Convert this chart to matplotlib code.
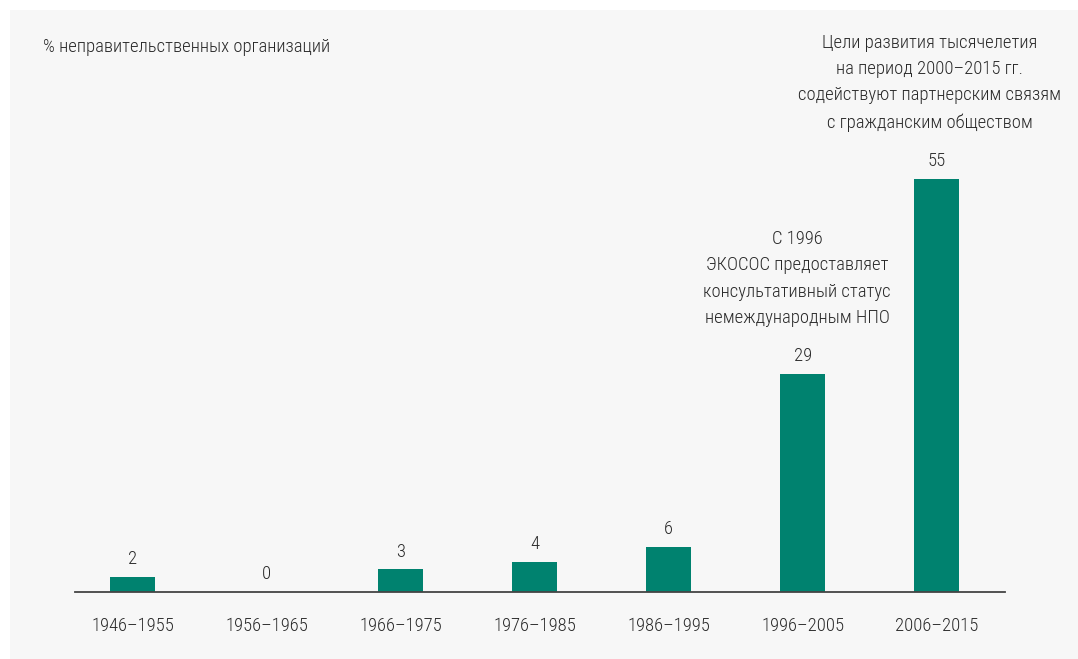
import matplotlib
matplotlib.use("Agg")
import matplotlib.pyplot as plt
from matplotlib.patches import Rectangle

plt.rcParams['font.family'] = ['Roboto Condensed', 'PT Sans Narrow', 'Archivo Narrow', 'DejaVu Sans']
plt.rcParams['font.weight'] = 'light'

categories = ["1946–1955", "1956–1965", "1966–1975", "1976–1985",
              "1986–1995", "1996–2005", "2006–2015"]
values = [2, 0, 3, 4, 6, 29, 55]
y_title = "% неправительственных организаций"
note_1996 = "С 1996\nЭКОСОС предоставляет\nконсультативный статус\nнемеждународным НПО"
note_mdg = ("Цели развития тысячелетия\nна период 2000–2015 гг.\n"
            "содействуют партнерским связям\nс гражданским обществом")

bar_color = "#00826f"
text_color = "#2a2a2a"
bg = "#f7f7f7"
FS = 13.4
LS = 1.6

W, H = 1078, 659
fig = plt.figure(figsize=(W / 100, H / 100), dpi=100)
fig.patch.set_facecolor("white")
fig.patches.append(Rectangle((10 / W, 0), 1 - 10 / W, 1 - 10 / H,
                             transform=fig.transFigure, facecolor=bg,
                             edgecolor="none", zorder=-10))

ax = fig.add_axes([75 / W, (H - 592) / H, (1005 - 75) / W, (592 - 66.3) / H])
ax.set_facecolor("none")
x = list(range(len(categories)))
ax.bar(x, values, width=0.336, color=bar_color, zorder=2)
ax.set_xlim(-0.43, 6.51)
ax.set_ylim(0, 70)

for xi, v in zip(x, values):
    ax.annotate(str(v), (xi, v), xytext=(0, 12.8), textcoords="offset points",
                ha="center", va="center", fontsize=FS, color=text_color)

ax.set_xticks(x)
ax.set_xticklabels(categories, fontsize=FS, color=text_color)
ax.tick_params(axis="x", length=0, pad=18)
ax.set_yticks([])
for s in ["top", "right", "left"]:
    ax.spines[s].set_visible(False)
ax.spines["bottom"].set_color("#444444")
ax.spines["bottom"].set_linewidth(1.3)

fig.text(43 / W, 1 - 47 / H, y_title, ha="left", va="center",
         fontsize=FS, color=text_color)

fig.text(797 / W, 1 - 278.5 / H, note_1996, ha="center", va="center",
         fontsize=FS, color=text_color, linespacing=LS)
fig.text(930 / W, 1 - 82.5 / H, note_mdg, ha="center", va="center",
         fontsize=FS, color=text_color, linespacing=LS)

fig.savefig("out.png", dpi=100, facecolor=fig.get_facecolor())
